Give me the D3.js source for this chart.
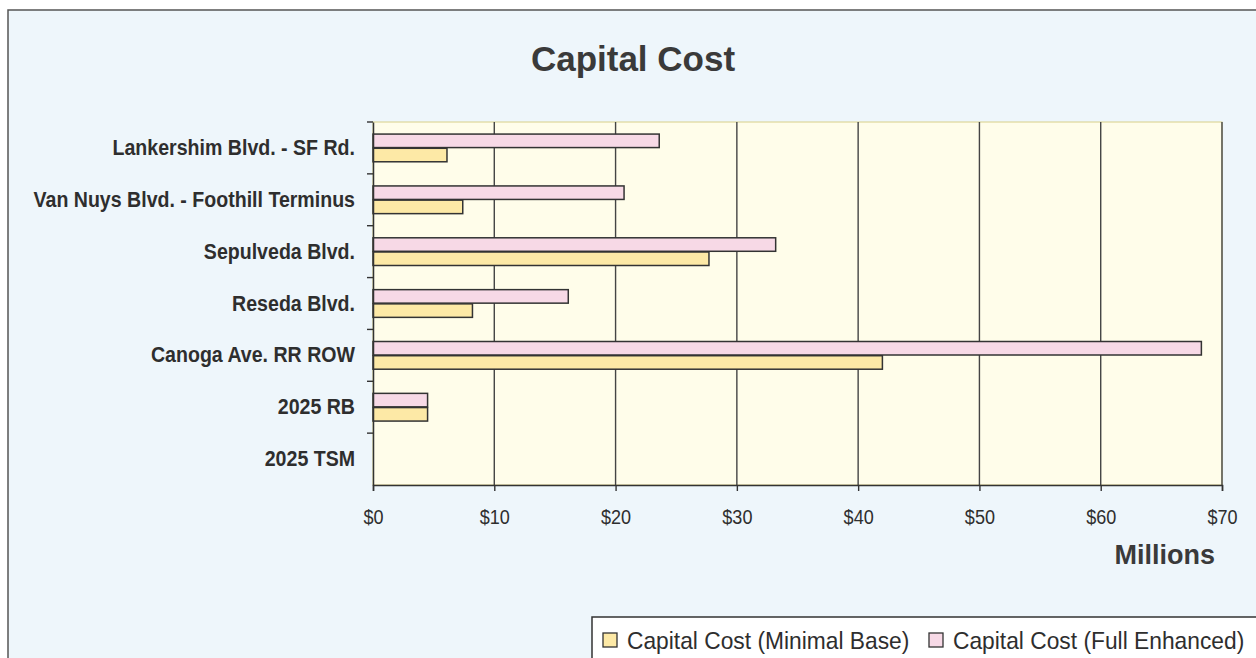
<!DOCTYPE html>
<html>
<head>
<meta charset="utf-8">
<script src="https://d3js.org/d3.v7.min.js"></script>
<style>
  body { margin: 0; background: #ffffff; }
  .lbl { font-family: "Liberation Sans", Arial, sans-serif; fill: #2e2e2e; }
</style>
<title>Capital Cost</title>
</head>
<body>
<svg width="1256" height="658"></svg>
<script>
// data (millions of dollars)
var categories = ["Lankershim Blvd. - SF Rd.", "Van Nuys Blvd. - Foothill Terminus",
                  "Sepulveda Blvd.", "Reseda Blvd.", "Canoga Ave. RR ROW", "2025 RB", "2025 TSM"];
var fullEnhanced = [23.6, 20.7, 33.2, 16.1, 68.3, 4.5, 0];
var minimalBase  = [6.1, 7.4, 27.7, 8.2, 42.0, 4.5, 0];
var xTicks = [0, 10, 20, 30, 40, 50, 60, 70];
var seriesNames = ["Capital Cost (Minimal Base)", "Capital Cost (Full Enhanced)"];

var svg = d3.select("svg");
var pLeft = 373, pRight = 1222, pTop = 122, pBottom = 485;

// squeeze text horizontally (the original uses a narrow face)
function narrow(sel, s) {
   sel.each(function() {
      var t = d3.select(this);
      var x0 = +t.attr("x") || 0;
      t.attr("x", x0 / s).attr("transform", "scale(" + s + ",1)");
   });
}

// outer chart area
svg.append("rect").attr("x", 8).attr("y", 10).attr("width", 1260).attr("height", 660)
   .attr("fill", "#eef6fb").attr("stroke", "#555").attr("stroke-width", 1.5);

svg.append("text").attr("class", "lbl")
   .attr("x", 633).attr("y", 71).attr("text-anchor", "middle")
   .style("font-size", "35px").style("font-weight", "bold").style("fill", "#3a3a3a")
   .text("Capital Cost");

var x = d3.scaleLinear().domain([0, 70]).range([pLeft, pRight]);
var y = d3.scaleBand().domain(categories).range([pTop, pBottom]);
var inner = d3.scaleBand().domain(["full", "min"]).range([0, y.bandwidth()]).paddingOuter(0.85).paddingInner(0.05);

svg.append("rect").attr("x", pLeft).attr("y", pTop).attr("width", pRight - pLeft).attr("height", pBottom - pTop)
   .attr("fill", "#fffdea").attr("stroke", "#d8cf8a").attr("stroke-width", 1);

// gridlines
svg.append("g").selectAll("line").data(xTicks.slice(1)).enter().append("line")
   .attr("x1", function(d) { return x(d); }).attr("x2", function(d) { return x(d); })
   .attr("y1", pTop).attr("y2", pBottom)
   .attr("stroke", "#444").attr("stroke-width", 1.4);

var rows = svg.append("g").selectAll("g").data(categories).enter().append("g")
   .attr("transform", function(d) { return "translate(0," + y(d) + ")"; });

rows.append("rect")
   .attr("x", pLeft).attr("y", inner("full")).attr("height", inner.bandwidth())
   .attr("width", function(d, i) { return x(fullEnhanced[i]) - pLeft; })
   .attr("fill", "#f7d9e6").attr("stroke", "#333").attr("stroke-width", 1.5)
   .style("display", function(d, i) { return fullEnhanced[i] > 0 ? null : "none"; });

rows.append("rect")
   .attr("x", pLeft).attr("y", inner("min")).attr("height", inner.bandwidth())
   .attr("width", function(d, i) { return x(minimalBase[i]) - pLeft; })
   .attr("fill", "#fde9a6").attr("stroke", "#333").attr("stroke-width", 1.5)
   .style("display", function(d, i) { return minimalBase[i] > 0 ? null : "none"; });

// axes
var yAxis = svg.append("g").attr("transform", "translate(" + pLeft + ",0)")
   .call(d3.axisLeft(y).tickSize(0).tickPadding(18));
yAxis.attr("font-family", null).attr("font-size", null);
yAxis.select(".domain").attr("stroke", "#333").attr("stroke-width", 1.5);
yAxis.selectAll("text").attr("class", "lbl").attr("fill", null)
   .style("font-size", "22px").style("font-weight", "bold");
narrow(yAxis.selectAll("text"), 0.89);
// category separators
svg.append("g").selectAll("line").data(categories).enter().append("line")
   .attr("x1", pLeft - 6).attr("x2", pLeft)
   .attr("y1", function(d) { return y(d); }).attr("y2", function(d) { return y(d); })
   .attr("stroke", "#333").attr("stroke-width", 1.4);

var xAxis = svg.append("g").attr("transform", "translate(0," + pBottom + ")")
   .call(d3.axisBottom(x).tickValues(xTicks).tickSize(6).tickPadding(18)
         .tickFormat(function(d) { return "$" + d; }));
xAxis.attr("font-family", null).attr("font-size", null);
xAxis.select(".domain").attr("stroke", "#333").attr("stroke-width", 1.5);
xAxis.selectAll(".tick line").attr("stroke", "#333").attr("stroke-width", 1.4);
xAxis.selectAll("text").attr("class", "lbl").attr("fill", null).style("font-size", "21px");
narrow(xAxis.selectAll("text"), 0.86);

svg.append("text").attr("class", "lbl")
   .attr("x", 1215).attr("y", 564).attr("text-anchor", "end")
   .style("font-size", "27px").style("font-weight", "bold").style("fill", "#3a3a3a")
   .text("Millions");

// legend
var lg = svg.append("g");
lg.append("rect").attr("x", 592).attr("y", 617).attr("width", 670).attr("height", 60)
  .attr("fill", "#ffffff").attr("stroke", "#333").attr("stroke-width", 1.5);
var legendColors = ["#fde9a6", "#f7d9e6"];
var legendX = [603, 929];
seriesNames.forEach(function(n, i) {
   lg.append("rect").attr("x", legendX[i]).attr("y", 633).attr("width", 14).attr("height", 14)
     .attr("fill", legendColors[i]).attr("stroke", "#333").attr("stroke-width", 1.3);
   var t = lg.append("text").attr("class", "lbl").attr("x", legendX[i] + 24).attr("y", 649)
     .style("font-size", "24px").text(n);
   narrow(t, 0.95);
});
</script>
</body>
</html>
